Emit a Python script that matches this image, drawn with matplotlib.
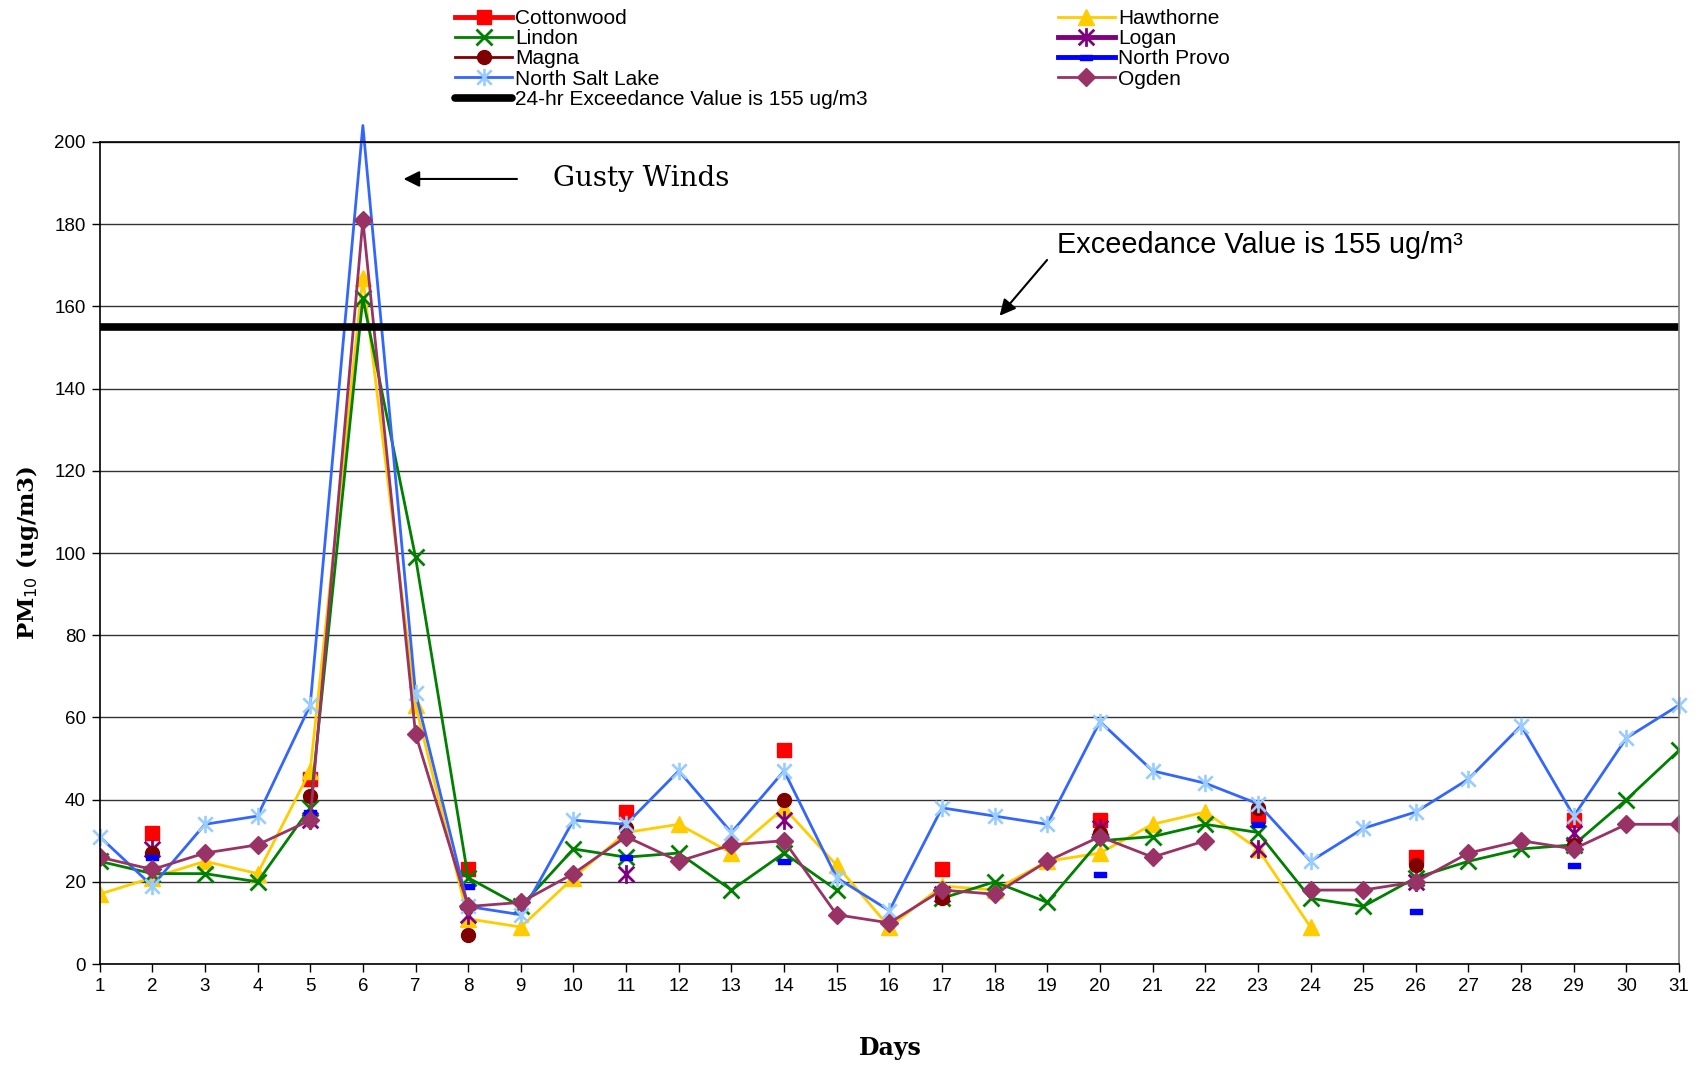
import numpy as np
import matplotlib
matplotlib.use("Agg")
import matplotlib.pyplot as plt
from matplotlib.path import Path

nan = np.nan
days = list(range(1, 32))
day_labels = [str(d) for d in days]

cottonwood = [nan, 32, nan, nan, 45, nan, nan, 23, nan, nan, 37, nan, nan, 52, nan, nan, 23, nan, nan, 35,
              nan, nan, 36, nan, nan, 26, nan, nan, 35, nan, nan]
hawthorne = [17, 21, 25, 22, 47, 167, 63, 11, 9, 21, 32, 34, 27, 38, 24, 9, 19, 18, 25, 27,
             34, 37, 28, 9, nan, nan, nan, nan, nan, nan, nan]
lindon = [25, 22, 22, 20, 38, 162, 99, 21, 14, 28, 26, 27, 18, 27, 18, nan, 16, 20, 15, 30,
          31, 34, 32, 16, 14, 21, 25, 28, 29, 40, 52]
logan = [nan, 28, nan, nan, 35, nan, nan, 12, nan, nan, 22, nan, nan, 35, nan, nan, 17, nan, nan, 33,
         nan, nan, 28, nan, nan, 20, nan, nan, 32, nan, nan]
magna = [nan, 27, nan, nan, 41, nan, nan, 7, nan, nan, 33, nan, nan, 40, nan, nan, 16, nan, nan, 32,
         nan, nan, 38, nan, nan, 24, nan, nan, 29, nan, nan]
north_provo = [nan, 26, nan, nan, 37, nan, nan, 19, nan, nan, 26, nan, nan, 25, nan, nan, nan, nan, nan, 22,
               nan, nan, 34, nan, nan, 13, nan, nan, 24, nan, nan]
north_salt_lake = [31, 19, 34, 36, 63, 204, 66, 14, 12, 35, 34, 47, 32, 47, 21, 13, 38, 36, 34, 59,
                   47, 44, 39, 25, 33, 37, 45, 58, 36, 55, 63]
ogden = [26, 23, 27, 29, 35, 181, 56, 14, 15, 22, 31, 25, 29, 30, 12, 10, 18, 17, 25, 31,
         26, 30, nan, 18, 18, 20, 27, 30, 28, 34, 34]
exceedance_value = 155

y_ticks = [0, 20, 40, 60, 80, 100, 120, 140, 160, 180, 200]

# asterisk marker: X plus vertical bar
star = Path([(-1, -1), (1, 1), (-1, 1), (1, -1), (0, -1.2), (0, 1.2)],
            [Path.MOVETO, Path.LINETO, Path.MOVETO, Path.LINETO, Path.MOVETO, Path.LINETO])
dash = Path([(-1, -0.45), (1, -0.45), (1, 0.45), (-1, 0.45), (-1, -0.45)],
            [Path.MOVETO, Path.LINETO, Path.LINETO, Path.LINETO, Path.CLOSEPOLY])

fig = plt.figure(figsize=(17, 10.65), dpi=100)
ax = fig.add_axes([0.0586, 0.0948, 0.9291, 0.7719])

sans = "Liberation Sans"
serif = "DejaVu Serif"
plt.rcParams["mathtext.fontset"] = "dejavuserif"

h_cot, = ax.plot(days, cottonwood, color="#FF0000", lw=3.5, marker="s", ms=10.5, mec="#FF0000",
                 label="Cottonwood")
h_haw, = ax.plot(days, hawthorne, color="#FFCC00", lw=2.0, marker="^", ms=11.5, mec="#FFCC00",
                 label="Hawthorne")
h_lin, = ax.plot(days, lindon, color="#008000", lw=2.0, marker="x", ms=11.5, mew=2.0,
                 label="Lindon")
h_log, = ax.plot(days, logan, color="#800080", lw=3.5, marker=star, ms=13.5, mew=2.0,
                 label="Logan")
h_mag, = ax.plot(days, magna, color="#800000", lw=2.0, marker="o", ms=10, mec="#800000",
                 label="Magna")
h_np, = ax.plot(days, north_provo, color="#0000FF", lw=3.5, marker=dash, ms=8, mec="#0000FF",
                mfc="#0000FF", label="North Provo")
nsl_marks = [i for i, v in enumerate(north_salt_lake) if v <= y_ticks[-1]]
h_nsl, = ax.plot(days, north_salt_lake, color="#3366FF", lw=2.0, marker=star, ms=12.5, mew=1.9,
                 mec="#99CCFF", markevery=nsl_marks, clip_on=False, label="North Salt Lake")
h_ogd, = ax.plot(days, ogden, color="#993366", lw=2.0, marker="D", ms=8.8, mec="#993366",
                 mfc="#993366", label="Ogden")
h_exc, = ax.plot(days, [exceedance_value] * len(days), color="black", lw=5.5,
                 solid_capstyle="round", label="24-hr Exceedance Value is 155 ug/m3")

ax.set_xlim(days[0], days[-1])
ax.set_ylim(y_ticks[0], y_ticks[-1])
ax.set_xticks(days)
ax.set_xticklabels(day_labels, fontfamily=sans, fontsize=13.5)
ax.set_yticks(y_ticks)
ax.set_yticklabels([str(v) for v in y_ticks], fontfamily=sans, fontsize=13.5)
ax.tick_params(axis="both", direction="out", length=6, width=1, color="black", pad=4)
ax.grid(axis="y", color="#333333", lw=1.0)
ax.set_axisbelow(True)
for s in ["left", "bottom", "top"]:
    ax.spines[s].set_color("black")
    ax.spines[s].set_linewidth(1.2)
ax.spines["right"].set_color("#808080")
ax.spines["right"].set_linewidth(1.2)

ax.set_ylabel(r"PM$_{10}$ (ug/m3)", fontfamily=serif, fontweight="bold", fontsize=16.5)
ax.yaxis.set_label_coords(-0.037, 0.5)
ax.set_xlabel("Days", fontfamily=serif, fontweight="bold", fontsize=17, va="center")
ax.xaxis.set_label_coords(0.5005, -0.102)

ax.annotate("", xy=(6.72, 191), xytext=(8.98, 191),
            arrowprops=dict(arrowstyle="-|>", color="black", lw=1.5, mutation_scale=24))
ax.text(9.61, 191, "Gusty Winds", fontfamily=serif, fontsize=20, va="center")
ax.annotate("", xy=(18.06, 157.2), xytext=(19.03, 171.8),
            arrowprops=dict(arrowstyle="-|>", color="black", lw=1.5, mutation_scale=24))
ax.text(19.18, 175, "Exceedance Value is 155 ug/m\u00b3", fontfamily=sans, fontsize=20.8, va="center")

handles = [h_cot, h_lin, h_mag, h_nsl, h_exc, h_haw, h_log, h_np, h_ogd]
fig.legend(handles=handles, labels=[h.get_label() for h in handles], loc="upper left",
           bbox_to_anchor=(455 / 1700, 1 - 9 / 1065), ncol=2, frameon=False,
           prop={"family": sans, "size": 15}, handlelength=2.75, handletextpad=0.15,
           columnspacing=9.1, labelspacing=0.06, borderpad=0, borderaxespad=0, numpoints=1)

fig.savefig("out.png", dpi=100)
